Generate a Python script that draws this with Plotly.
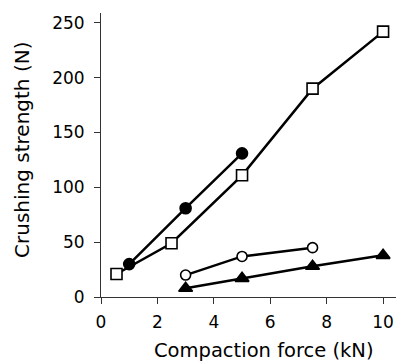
import plotly.graph_objects as go

# Data
x_fcirc = [1, 3, 5]
y_fcirc = [30, 81, 131]

x_osq = [0.55, 2.5, 5, 7.5, 10]
y_osq = [21, 49, 111, 190, 242]

x_ocirc = [3, 5, 7.5]
y_ocirc = [20, 37, 45]

x_ftri = [3, 5, 7.5, 10]
y_ftri = [8, 17, 28, 38]

x_ticks = [0, 2, 4, 6, 8, 10]
y_ticks = [0, 50, 100, 150, 200, 250]

FONT = "DejaVu Sans, Verdana, sans-serif"

fig = go.Figure()

def add(x, y, symbol, size, fill):
    fig.add_trace(go.Scatter(
        x=x, y=y, mode="lines+markers",
        line=dict(color="black", width=2.5),
        marker=dict(symbol=symbol, size=size, color=fill,
                    line=dict(color="black", width=1.6)),
        showlegend=False, cliponaxis=False,
    ))

add(x_osq, y_osq, "square", 11, "white")
add(x_fcirc, y_fcirc, "circle", 11, "black")
add(x_ocirc, y_ocirc, "circle", 10, "white")
add(x_ftri, y_ftri, "triangle-up", 12, "black")

# page body has an 8px margin, so the figure is 8px smaller and shifted
fig.update_layout(
    width=396, height=356,
    margin=dict(l=93, r=4, t=5, b=67),
    plot_bgcolor="white", paper_bgcolor="white",
    font=dict(family=FONT, color="black", size=17),
    xaxis=dict(range=[0, 10.6], tickvals=x_ticks, ticks="outside", ticklen=6,
               tickcolor="#333", showline=True, linecolor="#333", linewidth=1,
               showgrid=False, zeroline=False, ticklabelstandoff=4,
               tickfont=dict(size=17, family=FONT)),
    yaxis=dict(range=[0, 259], tickvals=y_ticks, ticks="outside", ticklen=6,
               tickcolor="#333", showline=True, linecolor="#333", linewidth=1,
               showgrid=False, zeroline=False, ticklabelstandoff=6,
               tickfont=dict(size=17, family=FONT)),
    annotations=[
        dict(text="Compaction force (kN)", xref="paper", yref="paper",
             x=0.545, y=-0.188, showarrow=False, font=dict(size=19.5, family=FONT),
             xanchor="center", yanchor="middle"),
        dict(text="Crushing strength (N)", xref="paper", yref="paper",
             x=-0.264, y=0.518, showarrow=False, textangle=-90,
             font=dict(size=20, family=FONT),
             xanchor="center", yanchor="middle"),
    ],
)

fig.write_html("out.html")
